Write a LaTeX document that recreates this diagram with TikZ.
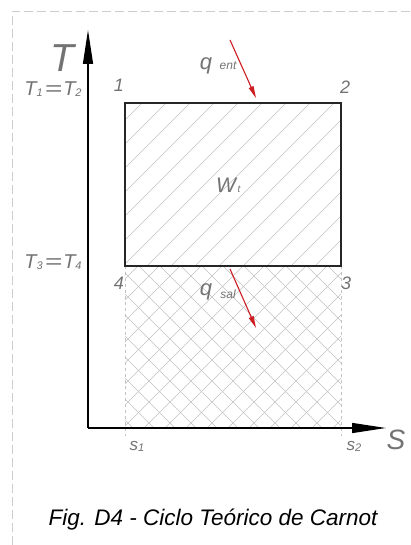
\documentclass[tikz,border=0pt]{standalone}
\usepackage{fontspec}
\setmainfont{Liberation Sans}
\usetikzlibrary{arrows.meta}
\definecolor{lbl}{RGB}{115,115,115}
\definecolor{hatch}{RGB}{195,195,195}
\definecolor{qred}{RGB}{205,30,35}
\definecolor{frame}{RGB}{205,205,205}
\newcommand\sbx[1]{\raisebox{-0.1ex}{\fontsize{11}{11}\selectfont #1}}
\newcommand\weq{\hspace{2pt}\scalebox{1.5}[1]{=}\hspace{1pt}}
\tikzset{
  lab/.style={text=lbl,font=\itshape\fontsize{20}{20}\selectfont,inner sep=0pt},
  axis/.style={draw=black,line width=1.3pt,-{Triangle[length=34pt,width=10pt]}},
  cycleline/.style={draw=black!85,line width=1.3pt},
  hatchline/.style={draw=hatch,line width=0.5pt},
  heat/.style={draw=qred,line width=1.1pt,-{Triangle[length=12pt,width=5pt]}},
  bound/.style={draw=frame,line width=0.7pt,dash pattern=on 9pt off 4pt},
  edge/.style={draw=hatch,line width=0.6pt,dashed}
}
\begin{document}
\begin{tikzpicture}[x=1pt,y=-1pt]
\useasboundingbox (0,0) rectangle (411,545);
\fill[white] (0,0) rectangle (411,545);
% frame
\draw[bound] (12,545) -- (12,11) -- (411,11);
% corners
\coordinate (O) at (88,428);
\coordinate (Ytip) at (88,30);
\coordinate (Xtip) at (386,428);
\coordinate (p1) at (125,103);
\coordinate (p2) at (341,103);
\coordinate (p3) at (341,266);
\coordinate (p4) at (125,266);
\coordinate (s1b) at (125,436);
\coordinate (s2b) at (341,436);
% upper hatch
\begin{scope}
\clip (p1) rectangle (p3);
\foreach \c in {0,24,...,480} {\draw[hatchline] (125+\c-170,266) -- (125+\c,96);}
\end{scope}
% lower crosshatch
\begin{scope}
\clip (125,266) rectangle (341,428);
\foreach \c in {0,21,...,420} {
  \draw[hatchline] (125+\c-170,428) -- (125+\c,258);
  \draw[hatchline] (341-\c+170,428) -- (341-\c,258);
}
\end{scope}
\draw[edge] (p4) -- (s1b);
\draw[edge] (p3) -- (s2b);
% axes
\draw[axis] (O) -- (Ytip);
\draw[axis] (O) -- (Xtip);
% cycle
\draw[cycleline] (p1) -- (p2) -- (p3) -- (p4) -- cycle;
% heat arrows
\coordinate (qa1) at (230,40);
\coordinate (qa2) at (256,98);
\coordinate (qb1) at (230,269);
\coordinate (qb2) at (256,328);
\draw[heat] (qa1) -- (qa2);
\draw[heat] (qb1) -- (qb2);
% labels
\node[lab,font=\itshape\fontsize{39}{39}\selectfont] (Tl) at (62,58) {T};
\node[lab] (t12) at (53,89) {T\sbx{1}\weq T\sbx{2}};
\node[lab,font=\itshape\fontsize{18}{18}\selectfont] (n1) at (119,85) {1};
\node[lab,font=\itshape\fontsize{18}{18}\selectfont] (n2) at (345,87) {2};
\node[lab,font=\itshape\fontsize{22}{22}\selectfont] (qe) at (206,66) {q};
\node[lab,font=\itshape\fontsize{12}{12}\selectfont] (ent) at (228,66) {ent};
\node[lab,font=\itshape\fontsize{21}{21}\selectfont] (W) at (226,185) {W};
\node[lab,font=\itshape\fontsize{10}{10}\selectfont] (wt) at (239,189) {t};
\node[lab] (t34) at (53,262) {T\sbx{3}\weq T\sbx{4}};
\node[lab,font=\itshape\fontsize{18}{18}\selectfont] (n4) at (119,283) {4};
\node[lab,font=\itshape\fontsize{18}{18}\selectfont] (n3) at (346,283) {3};
\node[lab,font=\itshape\fontsize{22}{22}\selectfont] (qs) at (206,292) {q};
\node[lab,font=\itshape\fontsize{12}{12}\selectfont] (sal) at (228,294) {sal};
\node[lab,font=\itshape\fontsize{17}{17}\selectfont] (s1) at (137,446) {s\sbx{1}};
\node[lab,font=\itshape\fontsize{17}{17}\selectfont] (s2) at (354,446) {s\sbx{2}};
\node[lab,font=\itshape\fontsize{28}{28}\selectfont] (Sl) at (396,440) {S};
\node[inner sep=0pt,font=\itshape\fontsize{22.5}{22.5}\selectfont] (cap) at (213,520) {Fig. D4 - Ciclo Teórico de Carnot};
\end{tikzpicture}
\end{document}
